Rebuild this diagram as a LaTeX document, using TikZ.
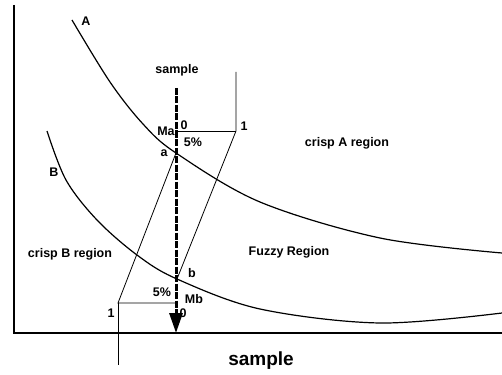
\documentclass[tikz,border=0pt]{standalone}
\usepackage{fontspec}
\setmainfont{Liberation Sans}
\usetikzlibrary{arrows.meta}
\tikzset{
  lbl/.style={font=\fontsize{12.5}{14}\selectfont\bfseries, inner sep=0pt},
  big/.style={font=\fontsize{19}{22}\selectfont\bfseries, inner sep=0pt},
  thin/.style={line width=0.8pt},
  curve/.style={line width=1.2pt},
  axis/.style={line width=1.2pt},
  samplearrow/.style={line width=3pt, dash pattern=on 7pt off 1.5pt,
    -{Triangle[width=13pt,length=20pt]}}
}
\begin{document}
\begin{tikzpicture}[x=1pt,y=-1pt]
\useasboundingbox (0,0) rectangle (502,374);
% axes
\coordinate (O) at (14,333);
\coordinate (Ytop) at (14,5);
\coordinate (Xend) at (502,333);
\draw[axis] (Ytop) -- (O) -- (Xend);
% curves
\draw[curve] plot[smooth, tension=0.55] coordinates {(72,20) (110,82) (143,124) (176,153) (260,202) (380,238) (502,253)};
\draw[curve] plot[smooth, tension=0.55] coordinates {(47,131) (66,180) (97,220) (137,255) (177,279) (260,309) (380,323) (502,313)};
% key points
\coordinate (S) at (176,88);
\coordinate (E) at (176,333);
\coordinate (Ma) at (176,131);
\coordinate (R1) at (236,131);
\coordinate (R1top) at (236,72);
\coordinate (a) at (176,153);
\coordinate (b) at (177,279);
\coordinate (Mb) at (176,303);
\coordinate (L1) at (118,303);
\coordinate (L1bot) at (118,365);
% membership lines
\draw[thin] (R1top) -- (R1) -- (b);
\draw[thin] (Ma) -- (R1);
\draw[thin] (a) -- (L1) -- (Mb);
\draw[thin] (L1) -- (L1bot);
% sample arrow
\draw[samplearrow] (S) -- (E);
% labels
\node[lbl] (lA) at (86,21) {A};
\node[lbl] (lB) at (54,172) {B};
\node[lbl] (ls) at (177,70) {sample};
\node[lbl] (lMa) at (166,131) {Ma};
\node[lbl] (l0a) at (184,125) {0};
\node[lbl] (l1a) at (244,126) {1};
\node[lbl] (l5a) at (193,142) {5\%};
\node[lbl] (la) at (164,153) {a};
\node[lbl] (lb) at (192,273) {b};
\node[lbl] (l5b) at (162,292) {5\%};
\node[lbl] (lMb) at (194,299) {Mb};
\node[lbl] (l0b) at (183,313) {0};
\node[lbl] (l1b) at (111,313) {1};
\node[lbl] (lcA) at (347,143) {crisp A region};
\node[lbl] (lF) at (289,252) {Fuzzy Region};
\node[lbl] (lcB) at (70,254) {crisp B region};
\node[big] (lS) at (261,361) {sample};
\end{tikzpicture}
\end{document}
